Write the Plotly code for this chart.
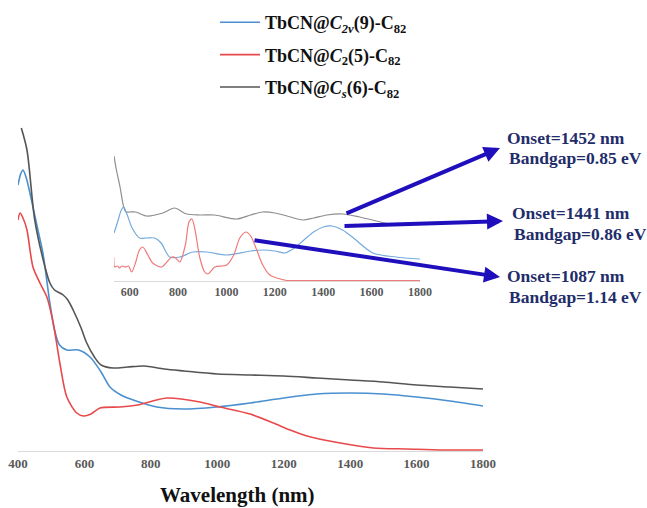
import plotly.graph_objects as go

# ---------------- data (arbitrary absorbance units) ----------------
# main spectra
main_cs_nm  = [410, 427, 450, 476, 496, 510, 536, 550, 566, 590, 607, 630, 650, 686, 730, 780, 840, 900, 1000, 1100, 1200, 1300, 1400, 1500, 1600, 1700, 1800]
main_cs_abs = [323, 301, 232, 191, 168, 161, 156, 151, 141, 123, 108, 94, 86, 83, 84, 85, 82, 80, 77, 76, 75, 73, 71, 69, 66, 64, 62]

main_c2v_nm  = [400, 408, 415, 425, 445, 460, 475, 496, 510, 525, 547, 582, 617, 650, 677, 710, 747, 818, 897, 998, 1099, 1200, 1300, 1400, 1500, 1600, 1700, 1800]
main_c2v_abs = [266, 277, 281, 273, 244, 221, 198, 148, 121, 106, 101, 101, 94, 79, 64, 56, 51, 44, 42, 44, 48, 53, 57, 58, 57, 54, 50, 45]

main_c2_nm  = [400, 406, 415, 427, 445, 466, 487, 506, 526, 547, 577, 597, 620, 647, 707, 760, 848, 948, 1008, 1099, 1169, 1219, 1270, 1370, 1470, 1571, 1680, 1800]
main_c2_abs = [231, 238, 233, 221, 184, 168, 154, 128, 88, 54, 38, 35, 37, 43, 44, 46, 53, 49, 44, 37, 28, 21, 15, 8, 3, 2, 1, 1]

# inset spectra
ins_cs_nm  = [535, 545, 560, 575, 585, 600, 625, 670, 737, 785, 835, 890, 950, 1043, 1100, 1150, 1200, 1250, 1316, 1360, 1415, 1481, 1550, 1655, 1700]
ins_cs_abs = [125, 111, 94, 74, 69, 69, 69, 65, 68, 73, 67, 66, 66, 62, 66, 69, 68, 65, 61, 63, 66, 67, 64, 58, 56]

ins_c2v_nm  = [535, 550, 565, 575, 590, 610, 641, 670, 703, 730, 765, 807, 861, 920, 1000, 1100, 1150, 1200, 1241, 1280, 1320, 1360, 1400, 1436, 1480, 1530, 1605, 1700, 1800]
ins_c2v_abs = [48, 59, 71, 74, 66, 53, 43, 43, 43, 38, 24, 24, 29, 29, 26, 30, 31, 30, 28, 33, 41, 49, 54, 55, 51, 42, 28, 24, 22]

ins_c2_nm  = [534, 538, 550, 558, 567, 583, 595, 608, 625, 640, 654, 675, 695, 732, 774, 790, 807, 830, 845, 857, 870, 890, 910, 923, 952, 1001, 1030, 1055, 1080, 1100, 1125, 1150, 1179, 1208, 1250, 1300, 1500, 1800]
ins_c2_abs = [24, 14, 15, 13, 15, 14, 15, 9, 19, 31, 34, 26, 18, 14, 24, 23, 19, 36, 59, 62, 51, 23, 9, 7, 14, 16, 26, 43, 49, 45, 31, 16, 6, 3, 0.5, 0.5, 0.5, 0.5]

x_ticks = [400, 600, 800, 1000, 1200, 1400, 1600, 1800]
inset_ticks = [600, 800, 1000, 1200, 1400, 1600, 1800]

legend_names = [
    "TbCN@<i>C</i><sub><i>2v</i></sub>(9)-C<sub>82</sub>",
    "TbCN@<i>C</i><sub>2</sub>(5)-C<sub>82</sub>",
    "TbCN@<i>C</i><sub><i>s</i></sub>(6)-C<sub>82</sub>",
]
onset_lines = [
    ("Onset=1452 nm", "Bandgap=0.85 eV"),
    ("Onset=1441 nm", "Bandgap=0.86 eV"),
    ("Onset=1087 nm", "Bandgap=1.14 eV"),
]

# ---------------- figure ----------------
W, H = 647, 508
L, R, T, B = 18, 164, 111, 57          # main plot area: x 18..483, y 111..451
PW, PH = W - L - R, H - T - B

def px_x(px):
    return (px - L) / PW

def px_y(py):
    return (H - B - py) / PH

blue_m, red_m, gray_m = "#4A90D0", "#E8494B", "#555555"
blue_i, red_i, gray_i = "#74ABDD", "#F07A7A", "#8E8E8E"
serif = "Liberation Serif"

fig = go.Figure()
fig.add_trace(go.Scatter(x=main_c2v_nm, y=main_c2v_abs, mode="lines", line=dict(color=blue_m, width=1.6, shape="spline", smoothing=0.8),
                         name=legend_names[0], legendgroup="a", hoverinfo="skip"))
fig.add_trace(go.Scatter(x=main_c2_nm, y=main_c2_abs, mode="lines", line=dict(color=red_m, width=1.6, shape="spline", smoothing=0.8),
                         name=legend_names[1], legendgroup="b", hoverinfo="skip"))
fig.add_trace(go.Scatter(x=main_cs_nm, y=main_cs_abs, mode="lines", line=dict(color=gray_m, width=1.6, shape="spline", smoothing=0.8),
                         name=legend_names[2], legendgroup="c", hoverinfo="skip"))

fig.add_trace(go.Scatter(x=ins_cs_nm, y=ins_cs_abs, xaxis="x2", yaxis="y2", mode="lines",
                         line=dict(color=gray_i, width=1.2, shape="spline", smoothing=0.8), showlegend=False, hoverinfo="skip"))
fig.add_trace(go.Scatter(x=ins_c2v_nm, y=ins_c2v_abs, xaxis="x2", yaxis="y2", mode="lines",
                         line=dict(color=blue_i, width=1.2, shape="spline", smoothing=0.8), showlegend=False, hoverinfo="skip"))
fig.add_trace(go.Scatter(x=ins_c2_nm, y=ins_c2_abs, xaxis="x2", yaxis="y2", mode="lines",
                         line=dict(color=red_i, width=1.2, shape="spline", smoothing=0.8), showlegend=False, hoverinfo="skip"))

tickfont_main = dict(family=serif, size=13, color="#595959", weight="bold")
tickfont_ins = dict(family=serif, size=12, color="#595959", weight="bold")

fig.update_layout(
    width=W, height=H,
    margin=dict(l=L, r=R, t=T, b=B, pad=0, autoexpand=False),
    paper_bgcolor="white", plot_bgcolor="white",
    xaxis=dict(range=[400, 1800], tickvals=x_ticks, ticktext=[str(v) for v in x_ticks],
               showgrid=False, zeroline=False, showline=True, linecolor="#D9D9D9", linewidth=1,
               ticks="", tickfont=tickfont_main, domain=[0, 1], automargin=False),
    yaxis=dict(range=[0, PH], visible=False, domain=[0, 1], automargin=False),
    xaxis2=dict(range=[535, 1800], tickvals=inset_ticks, ticktext=[str(v) for v in inset_ticks],
                showgrid=False, zeroline=False, showline=True, linecolor="#D9D9D9", linewidth=1,
                ticks="", tickfont=tickfont_ins, anchor="y2", automargin=False,
                domain=[px_x(114), px_x(420)]),
    yaxis2=dict(range=[0, 130], visible=False, anchor="x2", automargin=False,
                domain=[px_y(281), px_y(151)]),
    showlegend=True,
    legend=dict(x=px_x(215), y=px_y(4), xanchor="left", yanchor="top",
                font=dict(family=serif, size=18, color="#111111", weight="bold"),
                bgcolor="rgba(0,0,0,0)", traceorder="grouped", tracegroupgap=6,
                itemwidth=40),
)

# x-axis title
fig.add_annotation(x=px_x(237), y=px_y(495), xref="paper", yref="paper", showarrow=False,
                   text="Wavelength (nm)", font=dict(family=serif, size=21, color="#111111", weight="bold"),
                   xanchor="center", yanchor="middle")

# arrows: (tip_px, tail_px)
arrows = [((500, 148), (345, 214)), ((503, 221), (343, 226)), ((500, 277), (253, 240))]
arrow_color = "#1F0EBC"
for (tx, ty), (sx, sy) in arrows:
    fig.add_annotation(x=px_x(tx), y=px_y(ty), xref="paper", yref="paper", text="",
                       showarrow=True, ax=sx - tx, ay=sy - ty, axref="pixel", ayref="pixel",
                       arrowhead=2, arrowsize=0.8, arrowwidth=4, arrowcolor=arrow_color, standoff=0)

# onset / bandgap labels (left x px, y px center)
label_pos = [((505, 138), (507, 158)), ((510, 213), (512, 234)), ((505, 276), (507, 297))]
navy = "#1F2D6B"
for (l1, l2), ((x1, y1), (x2, y2)) in zip(onset_lines, label_pos):
    for txt, xx, yy in ((l1, x1, y1), (l2, x2, y2)):
        fig.add_annotation(x=px_x(xx), y=px_y(yy), xref="paper", yref="paper", showarrow=False,
                           text=txt, xanchor="left", yanchor="middle",
                           font=dict(family=serif, size=17.5, color=navy, weight="bold"))

fig.write_html("out.html", config={"displayModeBar": False},
               post_script="document.body.style.margin='0';")
